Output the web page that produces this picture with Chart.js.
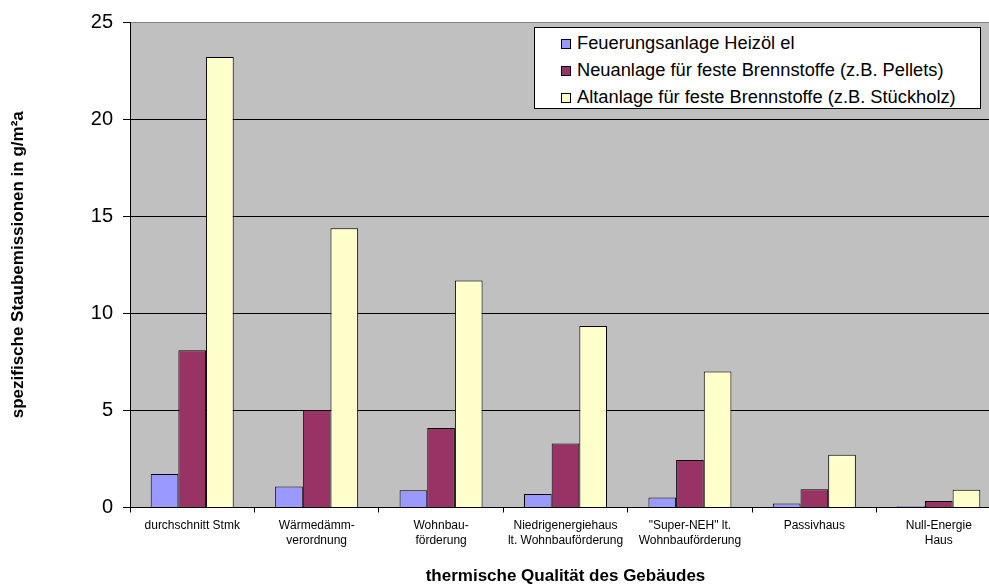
<!DOCTYPE html>
<html lang="de">
<head>
<meta charset="utf-8">
<title>Staubemissionen nach thermischer Qualität</title>
<script src="https://cdn.jsdelivr.net/npm/chart.js@4/dist/chart.umd.min.js"></script>
<style>
  html, body { margin: 0; padding: 0; background: #fff; overflow: hidden; }
  #wrap { position: relative; width: 989px; height: 587px; overflow: hidden; }
  #chart { position: absolute; left: 0; top: 0; }
  #legend {
    position: absolute; left: 534px; top: 27px; width: 445px; height: 80px;
    background: #fff; border: 1px solid #000;
    font-family: "Liberation Sans", Arial, sans-serif; font-size: 18.3px; color: #000;
  }
  #legend .item { position: absolute; left: 26px; height: 20px; line-height: 20px; white-space: nowrap; }
  #legend .sw { display: inline-block; box-sizing: border-box; width: 10px; height: 10px; border: 1px solid #000; margin-right: 6px; vertical-align: 0; }
</style>
</head>
<body>
<div id="wrap">
  <canvas id="chart" width="1004" height="587"></canvas>
  <div id="legend"></div>
</div>
<script>
// Kategorien (thermische Qualität des Gebäudes)
const categories = [
  ["durchschnitt Stmk"],
  ["Wärmedämm-", "verordnung"],
  ["Wohnbau-", "förderung"],
  ["Niedrigenergiehaus", "lt. Wohnbauförderung"],
  ["\"Super-NEH\" lt.", "Wohnbauförderung"],
  ["Passivhaus"],
  ["Null-Energie", "Haus"]
];

// spezifische Staubemissionen in g/m²a
const seriesNames = [
  "Feuerungsanlage Heizöl el",
  "Neuanlage für feste Brennstoffe (z.B. Pellets)",
  "Altanlage für feste Brennstoffe (z.B. Stückholz)"
];
const heizoel   = [1.73, 1.08, 0.89, 0.70, 0.51, 0.20, 0.07];
const neuanlage = [8.10, 5.02, 4.10, 3.29, 2.44, 0.94, 0.33];
const altanlage = [23.20, 14.38, 11.69, 9.34, 7.00, 2.71, 0.91];

const yTicks = [0, 5, 10, 15, 20, 25];

const FONT = "'Liberation Sans', Arial, sans-serif";
const colors = ["#9999FF", "#993366", "#FFFFCC"];

// grauer Hintergrund der Zeichnungsfläche
const plotBackground = {
  id: "plotBackground",
  beforeDraw(chart) {
    const { ctx, chartArea: a } = chart;
    ctx.save();
    ctx.fillStyle = "#C0C0C0";
    ctx.fillRect(a.left, a.top, a.right - a.left, a.bottom - a.top);
    ctx.restore();
  }
};

const chart = new Chart(document.getElementById("chart"), {
  type: "bar",
  data: {
    labels: categories,
    datasets: [heizoel, neuanlage, altanlage].map((values, i) => ({
      label: seriesNames[i],
      data: values,
      backgroundColor: colors[i],
      borderColor: "#000",
      borderWidth: 1,
      categoryPercentage: 0.667,
      barPercentage: 1.0
    }))
  },
  options: {
    responsive: false,
    animation: false,
    events: [],
    layout: { padding: { top: 21, left: 0, right: 3, bottom: 0 } },
    plugins: { legend: { display: false }, tooltip: { enabled: false } },
    scales: {
      x: {
        grid: { offset: true, drawOnChartArea: false, drawTicks: true, tickLength: 5, color: "#000", tickColor: "#000" },
        border: { display: true, color: "#000", width: 1 },
        ticks: {
          font: { family: FONT, size: 12, lineHeight: 1.25 },
          color: "#000", padding: 6, maxRotation: 0, minRotation: 0, autoSkip: false
        },
        title: {
          display: true,
          text: "thermische Qualität des Gebäudes",
          font: { family: FONT, size: 17, weight: "bold" },
          color: "#000",
          padding: { top: 0, bottom: 0 }
        },
        afterFit(scale) { scale.height = 79.5; }
      },
      y: {
        min: 0,
        max: 25,
        afterBuildTicks(scale) { scale.ticks = yTicks.map(v => ({ value: v })); },
        grid: {
          color: ctx => (ctx.tick && ctx.tick.value === 25 ? "#808080" : "#000"),
          tickColor: "#000",
          tickLength: 7,
          lineWidth: 1
        },
        border: { display: true, color: "#000", width: 1 },
        ticks: { font: { family: FONT, size: 20 }, color: "#000", padding: 10 },
        title: {
          display: true,
          text: "spezifische Staubemissionen in g/m²a",
          font: { family: FONT, size: 17, weight: "bold" },
          color: "#000",
          padding: { top: 8, bottom: 0 }
        },
        afterFit(scale) { scale.width = 130; }
      }
    }
  },
  plugins: [plotBackground]
});

// Legende aus den Datenreihen
const legend = document.getElementById("legend");
chart.data.datasets.forEach((ds, i) => {
  const item = document.createElement("div");
  item.className = "item";
  item.style.top = (5 + i * 27) + "px";
  const sw = document.createElement("span");
  sw.className = "sw";
  sw.style.background = ds.backgroundColor;
  item.appendChild(sw);
  item.appendChild(document.createTextNode(ds.label));
  legend.appendChild(item);
});
</script>
</body>
</html>
